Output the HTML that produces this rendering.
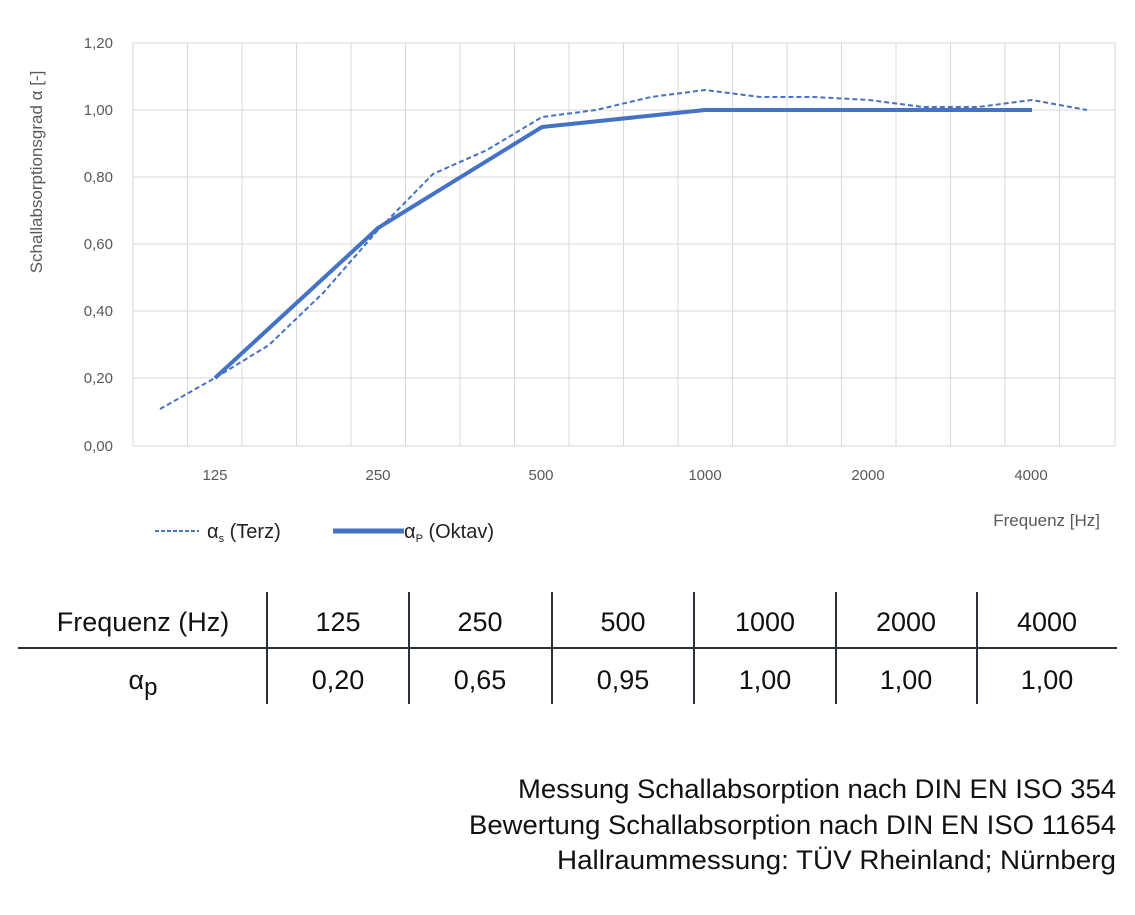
<!DOCTYPE html>
<html><head><meta charset="utf-8"><style>
body{margin:0;background:#fff;}
svg{display:block;}
</style></head><body>
<svg width="1135" height="915" xmlns="http://www.w3.org/2000/svg">
<g stroke="#d9d9d9" stroke-width="1">
<line x1="133" y1="43" x2="1115" y2="43"/>
<line x1="133" y1="110" x2="1115" y2="110"/>
<line x1="133" y1="177" x2="1115" y2="177"/>
<line x1="133" y1="244" x2="1115" y2="244"/>
<line x1="133" y1="311" x2="1115" y2="311"/>
<line x1="133" y1="378" x2="1115" y2="378"/>
<line x1="133" y1="446" x2="1115" y2="446"/>
<line x1="133" y1="43" x2="133" y2="446"/>
<line x1="187.5" y1="43" x2="187.5" y2="446"/>
<line x1="242" y1="43" x2="242" y2="446"/>
<line x1="296.5" y1="43" x2="296.5" y2="446"/>
<line x1="351" y1="43" x2="351" y2="446"/>
<line x1="405.5" y1="43" x2="405.5" y2="446"/>
<line x1="460" y1="43" x2="460" y2="446"/>
<line x1="514.5" y1="43" x2="514.5" y2="446"/>
<line x1="569" y1="43" x2="569" y2="446"/>
<line x1="623.5" y1="43" x2="623.5" y2="446"/>
<line x1="678" y1="43" x2="678" y2="446"/>
<line x1="732.5" y1="43" x2="732.5" y2="446"/>
<line x1="787" y1="43" x2="787" y2="446"/>
<line x1="841.5" y1="43" x2="841.5" y2="446"/>
<line x1="896" y1="43" x2="896" y2="446"/>
<line x1="950.5" y1="43" x2="950.5" y2="446"/>
<line x1="1005" y1="43" x2="1005" y2="446"/>
<line x1="1059.5" y1="43" x2="1059.5" y2="446"/>
<line x1="1115" y1="43" x2="1115" y2="446"/>
</g>
<g font-family="Liberation Sans, sans-serif" font-size="15" fill="#595959" text-anchor="end">
<text x="113" y="48">1,20</text><text x="113" y="115">1,00</text><text x="113" y="182">0,80</text>
<text x="113" y="249">0,60</text><text x="113" y="316">0,40</text><text x="113" y="383">0,20</text><text x="113" y="451">0,00</text>
</g>
<g font-family="Liberation Sans, sans-serif" font-size="15" fill="#595959" text-anchor="middle">
<text x="215" y="480">125</text><text x="378" y="480">250</text><text x="541" y="480">500</text>
<text x="705" y="480">1000</text><text x="868" y="480">2000</text><text x="1031" y="480">4000</text>
</g>
<text transform="translate(42,172) rotate(-90)" font-family="Liberation Sans, sans-serif" font-size="17" fill="#595959" text-anchor="middle">Schallabsorptionsgrad α [-]</text>
<text x="1100" y="526" font-family="Liberation Sans, sans-serif" font-size="17" fill="#595959" text-anchor="end">Frequenz [Hz]</text>
<polyline fill="none" stroke="#4472c4" stroke-width="2" stroke-dasharray="5,3" points="160,409 215,378 269,345 324,292 378,230 433,174 487,150 542,117 596,110 651,97 705,90 760,97 814,97 869,100 923,107 978,107 1032,100 1087,110"/>
<polyline fill="none" stroke="#4472c4" stroke-width="4" stroke-linejoin="round" points="215,378 378,228 542,127 705,110 869,110 1032,110"/>
<line x1="155" y1="531" x2="199" y2="531" stroke="#4472c4" stroke-width="2" stroke-dasharray="4,2"/>
<text x="207" y="538" font-family="Liberation Sans, sans-serif" font-size="20" fill="#222">α<tspan font-size="11" dy="4">s</tspan><tspan dy="-4"> (Terz)</tspan></text>
<line x1="333" y1="531" x2="404" y2="531" stroke="#4472c4" stroke-width="5"/>
<text x="404" y="538" font-family="Liberation Sans, sans-serif" font-size="20" fill="#222">α<tspan font-size="11" dy="4">P</tspan><tspan dy="-4"> (Oktav)</tspan></text>
<g stroke="#2b2f36" stroke-width="2">
<line x1="18" y1="648" x2="1117" y2="648"/>
<line x1="267" y1="592" x2="267" y2="704"/>
<line x1="409" y1="592" x2="409" y2="704"/>
<line x1="552" y1="592" x2="552" y2="704"/>
<line x1="694" y1="592" x2="694" y2="704"/>
<line x1="836" y1="592" x2="836" y2="704"/>
<line x1="977" y1="592" x2="977" y2="704"/>
</g>
<g font-family="Liberation Sans, sans-serif" font-size="27" fill="#111" text-anchor="middle">
<text x="143" y="631">Frequenz (Hz)</text>
<text x="338" y="631">125</text><text x="480" y="631">250</text><text x="623" y="631">500</text>
<text x="765" y="631">1000</text><text x="906" y="631">2000</text><text x="1047" y="631">4000</text>
<text x="143" y="689">α<tspan font-size="24" dy="6">p</tspan></text>
<text x="338" y="689">0,20</text><text x="480" y="689">0,65</text><text x="623" y="689">0,95</text>
<text x="765" y="689">1,00</text><text x="906" y="689">1,00</text><text x="1047" y="689">1,00</text>
</g>
<g font-family="Liberation Sans, sans-serif" font-size="27" fill="#111" text-anchor="end">
<text x="1116" y="798" textLength="598" lengthAdjust="spacingAndGlyphs">Messung Schallabsorption nach DIN EN ISO 354</text>
<text x="1116" y="834" textLength="647" lengthAdjust="spacingAndGlyphs">Bewertung Schallabsorption nach DIN EN ISO 11654</text>
<text x="1116" y="869" textLength="559" lengthAdjust="spacingAndGlyphs">Hallraummessung: TÜV Rheinland; Nürnberg</text>
</g>
</svg>
</body></html>
